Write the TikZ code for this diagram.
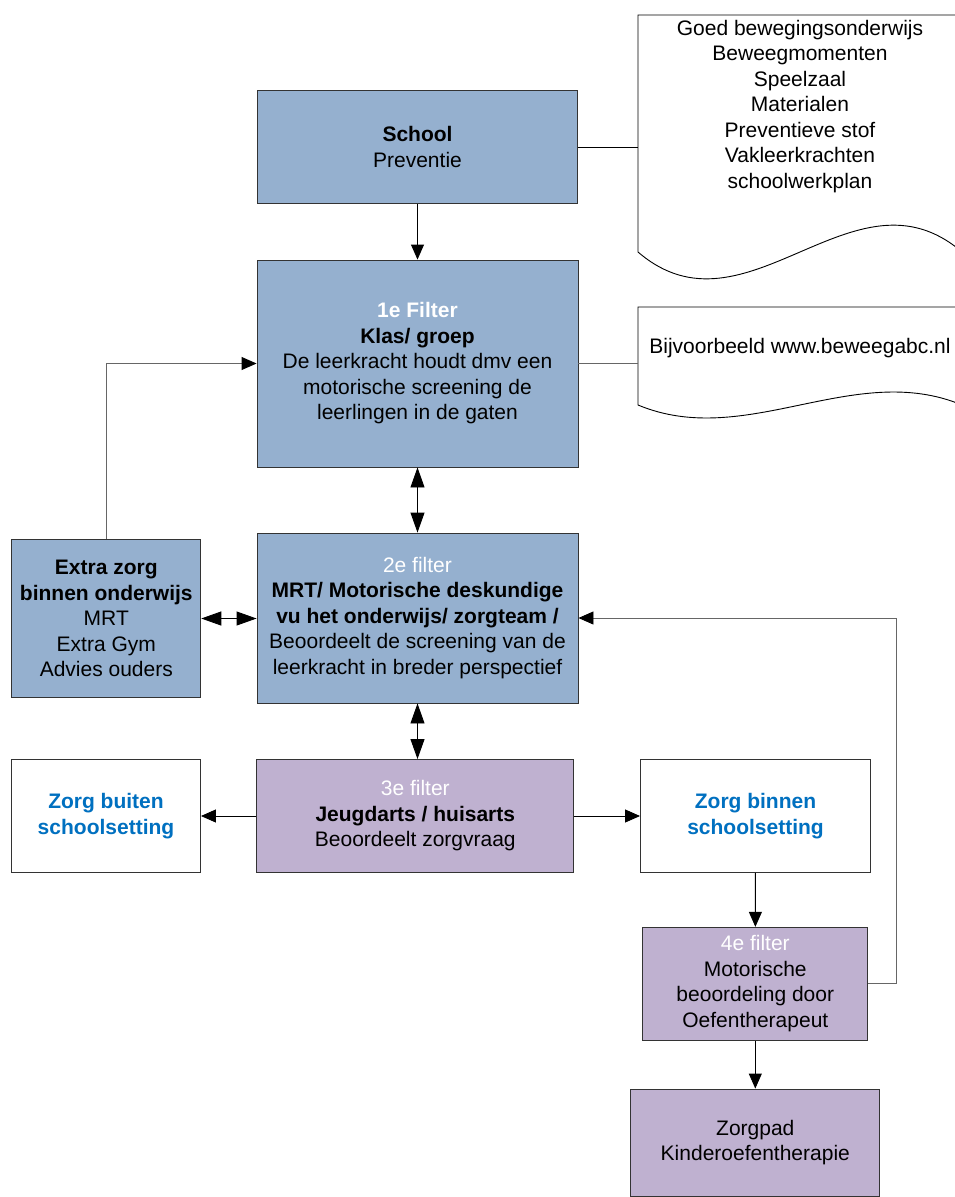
\documentclass[tikz,border=0pt]{standalone}
\usepackage{fontspec}
\setmainfont{Liberation Sans}
\usetikzlibrary{arrows.meta}
\definecolor{filterblue}{RGB}{149,176,207}
\definecolor{filterpurple}{RGB}{191,177,208}
\definecolor{zorgblue}{RGB}{0,112,192}

\begin{document}
\begin{tikzpicture}[x=1pt,y=-1pt,
  box/.style={draw=black!80,line width=0.9pt,align=center,inner sep=0pt,
    font=\fontsize{21}{25.5}\selectfont},
  bluebox/.style={box,fill=filterblue},
  purplebox/.style={box,fill=filterpurple},
  whitebox/.style={box,fill=white,text=zorgblue,font=\fontsize{21}{25.5}\selectfont\bfseries},
  doctext/.style={align=center,inner sep=0pt,font=\fontsize{21}{25.5}\selectfont},
  arr/.style={-{Triangle[length=15pt,width=13pt,color=black]},line width=0.9pt},
  darr/.style={{Triangle[length=20pt,width=14pt,color=black]}-{Triangle[length=20pt,width=14pt,color=black]},line width=0.9pt},
  greyline/.style={draw=black!60,line width=1.8pt}]

\useasboundingbox (0,0) rectangle (954,1197);

% School and its documents
\draw[line width=0.9pt,fill=white] (962,15) -- (638,15) -- (638,252)
  .. controls (746,345) and (854,159) .. (962,252);
\draw[line width=0.9pt,fill=white] (962,307) -- (638,307) -- (638,405)
  .. controls (746,450) and (854,360) .. (962,405);
\node[doctext] (goals) at (800,106.5) {Goed bewegingsonderwijs\\Beweegmomenten\\Speelzaal\\Materialen\\Preventieve stof\\Vakleerkrachten\\schoolwerkplan};
\node[doctext] (example) at (800,348) {Bijvoorbeeld www.beweegabc.nl};
\coordinate (doc1) at (638,147);
\coordinate (doc2) at (638,363.5);

\node[bluebox,minimum width=320pt,minimum height=113pt] (school) at (417.5,147)
  {\textbf{School}\\Preventie};

% filters 1 and 2
\node[bluebox,minimum width=321pt,minimum height=207pt] (filter1) at (417.5,363.5)
  {\textcolor{white}{\textbf{1e Filter}}\\\textbf{Klas/ groep}\\De leerkracht houdt dmv een\\motorische screening de\\leerlingen in de gaten};
\node[bluebox,minimum width=321pt,minimum height=170pt] (filter2) at (417.5,618)
  {\textcolor{white}{2e filter}\\\textbf{MRT/ Motorische deskundige}\\\textbf{vu het onderwijs/ zorgteam /}\\Beoordeelt de screening van de\\leerkracht in breder perspectief};
\node[bluebox,minimum width=189pt,minimum height=158pt] (extra) at (106.3,618.5)
  {\textbf{Extra zorg}\\\textbf{binnen onderwijs}\\MRT\\Extra Gym\\Advies ouders};

% filter 3 and the two routes
\node[purplebox,minimum width=317pt,minimum height=113pt] (filter3) at (415.3,816)
  {\textcolor{white}{3e filter}\\\textbf{Jeugdarts / huisarts}\\Beoordeelt zorgvraag};
\node[whitebox,minimum width=189pt,minimum height=113pt] (buiten) at (106,816)
  {Zorg buiten\\schoolsetting};
\node[whitebox,minimum width=230pt,minimum height=113pt] (binnen) at (755.5,816)
  {Zorg binnen\\schoolsetting};

% filter 4 and zorgpad
\node[purplebox,minimum width=225pt,minimum height=113pt] (filter4) at (755.3,983.8)
  {\textcolor{white}{4e filter}\\Motorische\\beoordeling door\\Oefentherapeut};
\node[purplebox,minimum width=249pt,minimum height=107pt] (zorgpad) at (755.3,1142.5)
  {Zorgpad\\Kinderoefentherapie};
\coordinate (fb) at (896,618);

% connectors
\draw[line width=0.9pt] (school.east) -- (doc1);
\draw[greyline] (filter1.east) -- (doc2);
\draw[arr] (school) -- (filter1);
\draw[darr] (filter1) -- (filter2);
\draw[greyline,arr] (extra.north) |- (filter1.west);
\draw[darr] (extra.east) -- (extra.east -| filter2.west);
\draw[darr] (filter2.south) -- (filter2.south |- filter3.north);
\draw[arr] (filter3) -- (buiten);
\draw[arr] (filter3) -- (binnen);
\draw[arr] (binnen) -- (filter4);
\draw[arr] (filter4) -- (zorgpad);
\draw[greyline,arr] (filter4.east) -| (fb) -- (filter2.east);

\end{tikzpicture}
\end{document}
